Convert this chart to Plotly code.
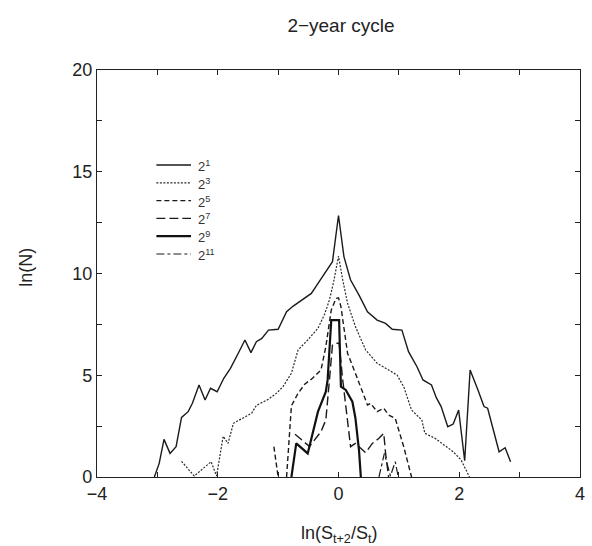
import plotly.graph_objects as go

# ---- data ----
labels = ["2<sup>1</sup>", "2<sup>3</sup>", "2<sup>5</sup>", "2<sup>7</sup>", "2<sup>9</sup>", "2<sup>11</sup>"]

s1_x = [-3.05, -2.97, -2.89, -2.79, -2.69, -2.60, -2.49, -2.42, -2.31, -2.21, -2.12, -2.01,
        -1.90, -1.79, -1.66, -1.55, -1.45, -1.36, -1.27, -1.16, -1.00, -0.86, -0.75, -0.67,
        -0.56, -0.45, -0.32, -0.18, -0.10, 0.00, 0.09, 0.20, 0.34, 0.48, 0.64, 0.78, 0.89,
        1.05, 1.16, 1.30, 1.40, 1.54, 1.62, 1.70, 1.81, 1.90, 1.99, 2.09, 2.18, 2.31, 2.41,
        2.47, 2.58, 2.66, 2.76, 2.85]
s1_y = [0.00, 0.67, 1.85, 1.16, 1.49, 2.93, 3.21, 3.62, 4.52, 3.78, 4.36, 4.19,
        4.85, 5.34, 6.08, 6.73, 6.11, 6.65, 6.81, 7.22, 7.26, 8.12, 8.40, 8.57,
        8.78, 9.02, 9.60, 10.25, 10.58, 12.85, 10.83, 9.68, 8.94, 8.12, 7.71, 7.55, 7.26,
        7.22, 6.16, 5.42, 4.77, 4.52, 3.90, 3.46, 2.47, 2.60, 3.29, 0.80, 5.26, 4.28, 3.46,
        3.38, 2.15, 1.24, 1.44, 0.75]

s3_x = [-2.60, -2.39, -2.11, -2.02, -1.91, -1.83, -1.74, -1.61, -1.44, -1.36, -1.16, -1.03,
        -0.92, -0.78, -0.67, -0.51, -0.34, -0.23, -0.15, -0.08, 0.00, 0.07, 0.15, 0.28,
        0.45, 0.64, 0.86, 0.97, 1.08, 1.21, 1.38, 1.43, 1.60, 1.76, 1.90, 2.03, 2.17]
s3_y = [0.77, 0.05, 0.75, 0.05, 2.00, 1.65, 2.64, 2.85, 3.13, 3.52, 3.82, 4.11,
        4.44, 5.10, 6.24, 6.73, 7.31, 8.00, 8.70, 9.60, 10.85, 9.68, 8.54, 7.39,
        6.24, 5.59, 5.18, 5.01, 4.44, 3.29, 2.80, 2.15, 1.90, 1.57, 1.24, 0.84, 0.00]

s5_x = [-1.07, -1.00, None, -0.86, -0.78, -0.67, -0.56, -0.43, -0.29, -0.21, -0.12, -0.04,
        0.00, 0.04, 0.15, 0.28, 0.42, 0.48, 0.53, 0.64, 0.75, 0.83, 0.94, 1.08, 1.21]
s5_y = [1.49, 0.00, None, 0.00, 3.50, 4.11, 4.56, 4.85, 5.26, 6.40, 8.21, 8.78,
        8.80, 8.37, 6.08, 5.10, 3.95, 3.54, 3.62, 3.21, 3.38, 3.05, 2.88, 1.49, 0.00]

s7_x = [-0.72, -0.48, -0.29, -0.21, -0.15, -0.10, -0.04, 0.01, 0.07, 0.12, 0.20, 0.28,
        0.45, 0.56, 0.67, 0.75, 0.78, 0.83]
s7_y = [2.10, 1.50, 2.23, 2.80, 4.77, 6.49, 6.57, 6.57, 4.77, 3.46, 1.49, 1.65,
        1.20, 1.65, 1.90, 2.15, 1.16, 0.00]

s9_x = [-0.78, -0.70, -0.51, -0.34, -0.21, -0.18, -0.12, -0.07, 0.01, 0.04, 0.12, 0.23,
        0.28, 0.34, 0.37]
s9_y = [0.00, 1.65, 1.16, 3.21, 4.19, 4.77, 7.71, 7.71, 7.71, 4.44, 4.28, 3.70,
        2.90, 1.30, 0.00]

s11_x = [0.67, 0.76, 0.86, 0.94, 0.99]
s11_y = [0.00, 1.16, 0.05, 0.75, 0.00]

x_ticks = [-4, -2, 0, 2, 4]
x_ticktext = ["\u22124", "\u22122", "0", "2", "4"]
y_ticks = [0, 5, 10, 15, 20]
y_ticktext = ["0", "5", "10", "15", "20"]

# line styles (style only)
styles = [
    dict(dash="solid", width=1.4, color="#1a1a1a"),
    dict(dash="2px,1.5px", width=1.2, color="#2a2a2a"),
    dict(dash="5px,3px", width=1.4, color="#1a1a1a"),
    dict(dash="9px,4px", width=1.4, color="#1a1a1a"),
    dict(dash="solid", width=2.2, color="#111111"),
    dict(dash="8px,3px,3px,3px", width=1.2, color="#1a1a1a"),
]
series = [(s1_x, s1_y), (s3_x, s3_y), (s5_x, s5_y), (s7_x, s7_y), (s9_x, s9_y), (s11_x, s11_y)]

# plot-area geometry in pixels
W, H = 592, 546
L, R, T, B = 97, 7, 70, 69
pw, ph = W - L - R, H - T - B

def px_x(p):
    return (p - L) / pw

def px_y(p):
    return (H - B - p) / ph

fig = go.Figure()
for (xs, ys), st, name in zip(series, styles, labels):
    fig.add_trace(go.Scatter(x=xs, y=ys, mode="lines", name=name, showlegend=False,
                             line=st, connectgaps=False))

# hand-drawn legend (upper left, inside the frame)
shapes = []
annotations = []
for i, (st, name) in enumerate(zip(styles, labels)):
    row_y = 165 + i * 17.8
    shapes.append(dict(type="line", xref="paper", yref="paper",
                       x0=px_x(157), x1=px_x(192), y0=px_y(row_y), y1=px_y(row_y),
                       line=st))
    annotations.append(dict(text=name, xref="paper", yref="paper",
                            x=px_x(197), y=px_y(row_y + 1), xanchor="left", yanchor="middle",
                            showarrow=False, font=dict(size=13, color="#333333")))

# axis titles
annotations.append(dict(text="ln(S<sub>t+2</sub>/S<sub>t</sub>)", xref="paper", yref="paper",
                        x=0.5, y=px_y(534), xanchor="center", yanchor="middle",
                        showarrow=False, font=dict(size=18, color="#222222")))
annotations.append(dict(text="ln(N)", xref="paper", yref="paper",
                        x=px_x(25), y=px_y(267), xanchor="center", yanchor="middle",
                        textangle=-90, showarrow=False, font=dict(size=18, color="#222222")))

font_main = "Liberation Sans, Arial, sans-serif"
fig.update_layout(
    width=W, height=H,
    margin=dict(l=L, r=R, t=T, b=B),
    paper_bgcolor="white", plot_bgcolor="white",
    font=dict(family=font_main, color="#222222", size=18),
    title=dict(text="2\u2212year cycle", x=(L + pw / 2) / W, xanchor="center",
               y=1 - 25 / H, yanchor="middle", font=dict(size=19, color="#222222")),
    showlegend=False,
    shapes=shapes,
    annotations=annotations,
)
axis_common = dict(ticks="inside", ticklen=5, tickcolor="#222222", tickwidth=1.2,
                   showline=True, linecolor="#222222", linewidth=1.3, mirror="ticks",
                   showgrid=False, zeroline=False, layer="above traces")
fig.update_xaxes(range=[-4, 4], tickvals=x_ticks, ticktext=x_ticktext,
                 minor=dict(tickvals=[-3, -1, 1, 3], ticks="inside", ticklen=5,
                            tickcolor="#222222", tickwidth=1.2, showgrid=False),
                 **axis_common)
fig.update_yaxes(range=[0, 20], tickvals=y_ticks, ticktext=y_ticktext,
                 minor=dict(tickvals=[2.5, 7.5, 12.5, 17.5], ticks="inside", ticklen=5,
                            tickcolor="#222222", tickwidth=1.2, showgrid=False),
                 **axis_common)

fig.write_html("out.html")
